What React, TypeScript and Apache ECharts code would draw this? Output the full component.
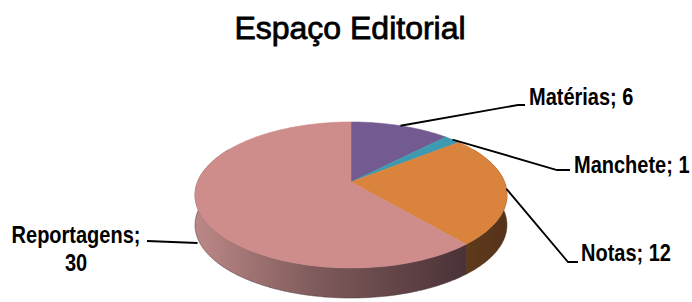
import React, { useEffect, useRef } from "react";
import * as echarts from "echarts";

// ---- data ----
const title = "Espaço Editorial";
const categories = ["Matérias", "Manchete", "Notas", "Reportagens"];
const values = [6, 1, 12, 30];

// ---- styles ----
const topColors = ["#735A90", "#3E9AB0", "#D9833C", "#CE8C8B"];
const sideStops: [number, string][][] = [
  [[0, "#4A3A5E"], [1, "#3E3050"]],
  [[0, "#2A6575"], [1, "#245866"]],
  [[0, "#5F3A1B"], [1, "#55321A"]],
  [[0, "#BC8887"], [0.45, "#7E5A5A"], [1, "#4A3237"]],
];

// ---- geometry of the tilted (perspective) disc ----
const CX = 351;
const CY = 182;
const RX = 153.5;
const RY = 70.7;
const K = 0.178;
const DEPTH = 30;

// ---- label layout (positions only) ----
const labelLayout = [
  { anchorDy: 0, elbow: [518, 105], end: [525, 105], text: [529, 97], align: "left" },
  { anchorDy: 0, elbow: [557, 170], end: [570, 170], text: [574, 165], align: "left" },
  { anchorDy: 0, elbow: [568, 262], end: [578, 262], text: [581, 253], align: "left" },
  { anchorDy: 35, elbow: [147, 241], end: [147, 241], text: [76, 249], align: "center" },
];

function proj(deg: number, dy = 0): [number, number] {
  const phi = (deg * Math.PI) / 180;
  const u = Math.cos(phi);
  const v = Math.sin(phi);
  const s = 1 / (1 - K * v);
  return [CX + RX * u * s, CY + RY * v * s + dy];
}

function sliceRange(i: number): [number, number] {
  const total = values.reduce((a, b) => a + b, 0);
  let before = 0;
  for (let j = 0; j < i; j++) before += values[j];
  const a = (before / total) * 360 - 90;
  const b = ((before + values[i]) / total) * 360 - 90;
  return [a, b];
}

function arc(a: number, b: number, dy = 0): [number, number][] {
  const pts: [number, number][] = [];
  const n = Math.max(2, Math.ceil(Math.abs(b - a) / 1));
  for (let k = 0; k <= n; k++) pts.push(proj(a + ((b - a) * k) / n, dy));
  return pts;
}

export default function App() {
  const ref = useRef<HTMLDivElement>(null);
  useEffect(() => {
    document.body.style.margin = "0";
    if (!ref.current) return;
    const chart = echarts.init(ref.current, undefined, { renderer: "svg" });
    const seriesData = values.map((v, i) => ({ name: categories[i], value: v }));

    const option: any = {
      animation: false,
      backgroundColor: "#ffffff",
      graphic: [
        {
          type: "text",
          x: 350,
          y: 28,
          style: {
            text: title,
            align: "center",
            verticalAlign: "middle",
            fontSize: 32,
            fontFamily: "Liberation Sans, Arial, sans-serif",
            fontWeight: "normal",
            fill: "#000",
            stroke: "#000",
            lineWidth: 0.8,
          },
        },
      ],
      series: [
        {
          type: "custom",
          coordinateSystem: "none",
          z: 1,
          data: seriesData,
          renderItem: (params: any, api: any) => {
            const i = params.dataIndex;
            api.value(0);
            const [a, b] = sliceRange(i);
            const lo = Math.max(a, -30);
            const hi = Math.min(b, 210);
            if (hi <= lo) return { type: "group", children: [] };
            const top = arc(lo, hi, 0);
            const bottom = arc(hi, lo, DEPTH);
            const pts = top.concat(bottom);
            const xs = pts.map((p) => p[0]);
            const x0 = Math.min(...xs);
            const x1 = Math.max(...xs);
            return {
              type: "polygon",
              shape: { points: pts },
              style: {
                fill: new echarts.graphic.LinearGradient(
                  x0, 0, x1, 0,
                  sideStops[i].map(([o, c]) => ({ offset: o, color: c })),
                  true
                ),
                stroke: sideStops[i][sideStops[i].length - 1][1],
                lineWidth: 0.5,
              },
            };
          },
        },
        {
          type: "custom",
          coordinateSystem: "none",
          z: 2,
          data: seriesData,
          renderItem: (params: any, api: any) => {
            const i = params.dataIndex;
            api.value(0);
            const [a, b] = sliceRange(i);
            const pts = [[CX, CY] as [number, number]].concat(arc(a, b, 0));
            return {
              type: "polygon",
              shape: { points: pts },
              style: { fill: topColors[i], stroke: topColors[i], lineWidth: 0.6 },
            };
          },
        },
        {
          type: "custom",
          coordinateSystem: "none",
          z: 3,
          data: seriesData,
          renderItem: (params: any, api: any) => {
            const i = params.dataIndex;
            const val = api.value(0);
            const [a, b] = sliceRange(i);
            const L = labelLayout[i];
            const anchor = proj((a + b) / 2, L.anchorDy);
            const sep = L.align === "center" ? "\n" : " ";
            return {
              type: "group",
              children: [
                {
                  type: "polyline",
                  shape: { points: [anchor, L.elbow, L.end] },
                  style: { stroke: "#000", lineWidth: 1.8, fill: null },
                },
                {
                  type: "text",
                  x: L.text[0],
                  y: L.text[1],
                  scaleY: 1.2,
                  style: {
                    text: categories[i] + ";" + sep + val,
                    align: L.align,
                    verticalAlign: "middle",
                    fontSize: 20,
                    lineHeight: 23,
                    fontWeight: "bold",
                    fontFamily: "Liberation Sans, Arial, sans-serif",
                    fill: "#000",
                  },
                },
              ],
            };
          },
        },
      ],
    };
    chart.setOption(option);
    return () => chart.dispose();
  }, []);
  return <div ref={ref} style={{ width: 692, height: 302 }} />;
}
